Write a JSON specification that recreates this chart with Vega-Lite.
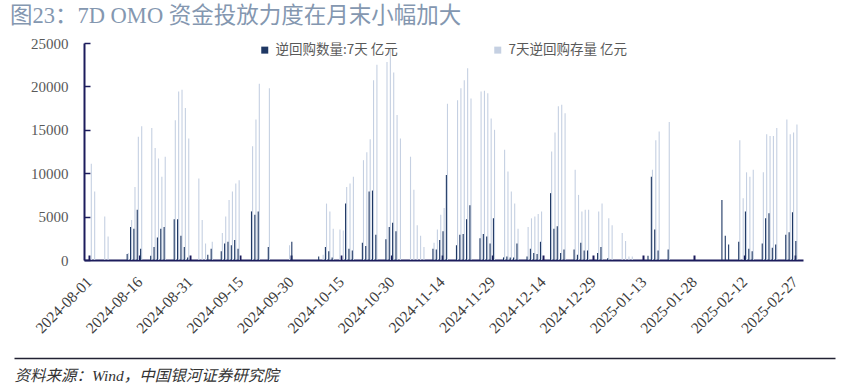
{
  "$schema": "https://vega.github.io/schema/vega-lite/v6.json",
  "width": 719,
  "height": 217,
  "autosize": {"type": "none"},
  "padding": {"left": 84, "top": 43, "right": 55, "bottom": 126},
  "background": "white",
  "config": {"view": {"stroke": null}, "font": "Liberation Serif"},
  "title": {
    "text": "图23：7D OMO 资金投放力度在月末小幅加大",
    "anchor": "start",
    "frame": "group",
    "dx": -74,
    "dy": 20,
    "offset": 11,
    "fontSize": 22.5,
    "font": "Liberation Serif, Noto Sans CJK SC",
    "fontWeight": "normal",
    "color": "#8497B0",
    "baseline": "alphabetic"
  },
  "data": {
    "values": [
      {"date": "2024-08-01", "qty": null, "stock": 11100},
      {"date": "2024-08-02", "qty": null, "stock": 7900},
      {"date": "2024-08-05", "qty": null, "stock": 5000},
      {"date": "2024-08-06", "qty": null, "stock": 2700},
      {"date": "2024-08-12", "qty": 700, "stock": 800},
      {"date": "2024-08-13", "qty": 3800, "stock": 4600},
      {"date": "2024-08-14", "qty": 3600, "stock": 8400},
      {"date": "2024-08-15", "qty": 5800, "stock": 14200},
      {"date": "2024-08-16", "qty": 1300, "stock": 15400},
      {"date": "2024-08-19", "qty": 500, "stock": 15200},
      {"date": "2024-08-20", "qty": 1500, "stock": 12900},
      {"date": "2024-08-21", "qty": 2600, "stock": 11700},
      {"date": "2024-08-22", "qty": 3600, "stock": 9600},
      {"date": "2024-08-23", "qty": 3800, "stock": 11900},
      {"date": "2024-08-26", "qty": 4700, "stock": 16100},
      {"date": "2024-08-27", "qty": 4700, "stock": 19400},
      {"date": "2024-08-28", "qty": 2800, "stock": 19600},
      {"date": "2024-08-29", "qty": 1500, "stock": 17500},
      {"date": "2024-08-30", "qty": 300, "stock": 14000},
      {"date": "2024-09-02", "qty": null, "stock": 9400},
      {"date": "2024-09-03", "qty": null, "stock": 4600},
      {"date": "2024-09-04", "qty": null, "stock": 1900},
      {"date": "2024-09-05", "qty": 600, "stock": null},
      {"date": "2024-09-06", "qty": 1300, "stock": 2100},
      {"date": "2024-09-09", "qty": 1000, "stock": 3100},
      {"date": "2024-09-10", "qty": 1900, "stock": 5000},
      {"date": "2024-09-11", "qty": 2100, "stock": 6900},
      {"date": "2024-09-12", "qty": 1700, "stock": 7900},
      {"date": "2024-09-13", "qty": 2300, "stock": 8800},
      {"date": "2024-09-14", "qty": 1300, "stock": 9200},
      {"date": "2024-09-18", "qty": 5600, "stock": 13100},
      {"date": "2024-09-19", "qty": 5200, "stock": 16200},
      {"date": "2024-09-20", "qty": 5600, "stock": 20300},
      {"date": "2024-09-23", "qty": 1500, "stock": 19800},
      {"date": "2024-09-29", "qty": null, "stock": 1700},
      {"date": "2024-09-30", "qty": 2100, "stock": null},
      {"date": "2024-10-08", "qty": 400, "stock": null},
      {"date": "2024-10-09", "qty": null, "stock": 600},
      {"date": "2024-10-10", "qty": 1500, "stock": 6500},
      {"date": "2024-10-11", "qty": 1000, "stock": 5600},
      {"date": "2024-10-12", "qty": 300, "stock": 3600},
      {"date": "2024-10-14", "qty": null, "stock": 3500},
      {"date": "2024-10-15", "qty": null, "stock": 3400},
      {"date": "2024-10-16", "qty": 6500, "stock": 8400},
      {"date": "2024-10-17", "qty": 1300, "stock": 8800},
      {"date": "2024-10-18", "qty": 1100, "stock": 9600},
      {"date": "2024-10-21", "qty": 2000, "stock": 11500},
      {"date": "2024-10-22", "qty": 1600, "stock": 12400},
      {"date": "2024-10-23", "qty": 7900, "stock": 13900},
      {"date": "2024-10-24", "qty": 8000, "stock": 20700},
      {"date": "2024-10-25", "qty": 2900, "stock": 22500},
      {"date": "2024-10-28", "qty": 2400, "stock": 22800},
      {"date": "2024-10-29", "qty": 3800, "stock": 24400},
      {"date": "2024-10-30", "qty": 4300, "stock": 21600},
      {"date": "2024-10-31", "qty": 3300, "stock": 16700},
      {"date": "2024-11-01", "qty": null, "stock": 14000},
      {"date": "2024-11-04", "qty": null, "stock": 11900},
      {"date": "2024-11-05", "qty": null, "stock": 8100},
      {"date": "2024-11-06", "qty": null, "stock": 4000},
      {"date": "2024-11-07", "qty": null, "stock": 2800},
      {"date": "2024-11-08", "qty": null, "stock": 1500},
      {"date": "2024-11-11", "qty": 1300, "stock": 2000},
      {"date": "2024-11-12", "qty": 1200, "stock": 3500},
      {"date": "2024-11-13", "qty": 2300, "stock": 5200},
      {"date": "2024-11-14", "qty": 3300, "stock": 6000},
      {"date": "2024-11-15", "qty": 9800, "stock": 18000},
      {"date": "2024-11-18", "qty": 1700, "stock": 18400},
      {"date": "2024-11-19", "qty": 2900, "stock": 19800},
      {"date": "2024-11-20", "qty": 3000, "stock": 20700},
      {"date": "2024-11-21", "qty": 4700, "stock": 22100},
      {"date": "2024-11-22", "qty": 6300, "stock": 18600},
      {"date": "2024-11-25", "qty": 2500, "stock": 19400},
      {"date": "2024-11-26", "qty": 3000, "stock": 19500},
      {"date": "2024-11-27", "qty": 2700, "stock": 19200},
      {"date": "2024-11-28", "qty": 1900, "stock": 16300},
      {"date": "2024-11-29", "qty": 4800, "stock": 15000},
      {"date": "2024-12-02", "qty": 300, "stock": 12700},
      {"date": "2024-12-03", "qty": 400, "stock": 10200},
      {"date": "2024-12-04", "qty": 300, "stock": 7900},
      {"date": "2024-12-05", "qty": 300, "stock": 6500},
      {"date": "2024-12-06", "qty": 1900, "stock": 3600},
      {"date": "2024-12-09", "qty": 400, "stock": 3800},
      {"date": "2024-12-10", "qty": 1300, "stock": 4800},
      {"date": "2024-12-11", "qty": 800, "stock": 5000},
      {"date": "2024-12-12", "qty": 700, "stock": 5300},
      {"date": "2024-12-13", "qty": 2100, "stock": 5600},
      {"date": "2024-12-16", "qty": 7700, "stock": 12500},
      {"date": "2024-12-17", "qty": 3600, "stock": 14700},
      {"date": "2024-12-18", "qty": 3900, "stock": 17700},
      {"date": "2024-12-19", "qty": 800, "stock": 17900},
      {"date": "2024-12-20", "qty": 1200, "stock": 16900},
      {"date": "2024-12-23", "qty": 1200, "stock": 10400},
      {"date": "2024-12-24", "qty": 600, "stock": 7500},
      {"date": "2024-12-25", "qty": 2000, "stock": 5600},
      {"date": "2024-12-26", "qty": 1100, "stock": 5800},
      {"date": "2024-12-27", "qty": 1100, "stock": 5800},
      {"date": "2024-12-30", "qty": 800, "stock": 5600},
      {"date": "2024-12-31", "qty": 1500, "stock": 6500},
      {"date": "2025-01-02", "qty": 200, "stock": 4800},
      {"date": "2025-01-03", "qty": null, "stock": 4000},
      {"date": "2025-01-06", "qty": null, "stock": 3100},
      {"date": "2025-01-07", "qty": null, "stock": 2200},
      {"date": "2025-01-08", "qty": null, "stock": 400},
      {"date": "2025-01-09", "qty": null, "stock": 400},
      {"date": "2025-01-14", "qty": 500, "stock": null},
      {"date": "2025-01-15", "qty": 9600, "stock": 10400},
      {"date": "2025-01-16", "qty": 3500, "stock": 13800},
      {"date": "2025-01-17", "qty": 1100, "stock": 14800},
      {"date": "2025-01-20", "qty": 1200, "stock": 15900},
      {"date": "2025-02-05", "qty": 6900, "stock": null},
      {"date": "2025-02-06", "qty": 2800, "stock": null},
      {"date": "2025-02-07", "qty": 1800, "stock": null},
      {"date": "2025-02-10", "qty": 2100, "stock": 13800},
      {"date": "2025-02-11", "qty": null, "stock": 7100},
      {"date": "2025-02-12", "qty": 5600, "stock": 10100},
      {"date": "2025-02-13", "qty": 1300, "stock": 9600},
      {"date": "2025-02-14", "qty": 1000, "stock": 10400},
      {"date": "2025-02-17", "qty": 1900, "stock": 10100},
      {"date": "2025-02-18", "qty": 4800, "stock": 14500},
      {"date": "2025-02-19", "qty": 5400, "stock": 14300},
      {"date": "2025-02-20", "qty": 1400, "stock": 14300},
      {"date": "2025-02-21", "qty": 1800, "stock": 15200},
      {"date": "2025-02-24", "qty": 2900, "stock": 16200},
      {"date": "2025-02-25", "qty": 3200, "stock": 14500},
      {"date": "2025-02-26", "qty": 5500, "stock": 14700},
      {"date": "2025-02-27", "qty": 2200, "stock": 15600}
    ]
  },
  "layer": [
    {
      "layer": [
        {
          "mark": {"type": "bar", "width": 1.1, "xOffset": 2.3},
          "encoding": {
            "x": {
              "field": "date",
              "type": "temporal",
              "scale": {
                "type": "utc",
                "domain": [
                  {"year": 2024, "month": 8, "date": 1, "utc": true},
                  {"year": 2025, "month": 2, "date": 28, "utc": true}
                ]
              },
              "axis": {
                "values": [
                  {"year": 2024, "month": 8, "date": 1, "utc": true},
                  {"year": 2024, "month": 8, "date": 16, "utc": true},
                  {"year": 2024, "month": 8, "date": 31, "utc": true},
                  {"year": 2024, "month": 9, "date": 15, "utc": true},
                  {"year": 2024, "month": 9, "date": 30, "utc": true},
                  {"year": 2024, "month": 10, "date": 15, "utc": true},
                  {"year": 2024, "month": 10, "date": 30, "utc": true},
                  {"year": 2024, "month": 11, "date": 14, "utc": true},
                  {"year": 2024, "month": 11, "date": 29, "utc": true},
                  {"year": 2024, "month": 12, "date": 14, "utc": true},
                  {"year": 2024, "month": 12, "date": 29, "utc": true},
                  {"year": 2025, "month": 1, "date": 13, "utc": true},
                  {"year": 2025, "month": 1, "date": 28, "utc": true},
                  {"year": 2025, "month": 2, "date": 12, "utc": true},
                  {"year": 2025, "month": 2, "date": 27, "utc": true}
                ],
                "labelExpr": "utcFormat(datum.value, '%Y-%m-%d')",
                "labelAngle": -45,
                "labelAlign": "right",
                "labelBaseline": "middle",
                "labelFont": "Liberation Serif",
                "labelFontSize": 15.5,
                "labelColor": "#404040",
                "labelPadding": 24,
                "labelOverlap": false,
                "labelFlush": false,
                "tickSize": -5,
                "tickWidth": 2,
                "tickColor": "#1c1c5c",
                "domainColor": "#1c1c5c",
                "domainWidth": 2,
                "grid": false,
                "title": "资料来源：Wind，中国银河证券研究院",
                "titleFont": "Liberation Serif, Noto Sans CJK SC",
                "titleFontStyle": "italic",
                "titleFontWeight": "normal",
                "titleFontSize": 15.5,
                "titleColor": "#333333",
                "titleAnchor": "start",
                "titleAlign": "left",
                "titleBaseline": "alphabetic",
                "titleX": -70,
                "titleY": 120
              }
            },
            "y": {
              "field": "stock",
              "type": "quantitative",
              "scale": {"domain": [0, 25000], "nice": false},
              "axis": {
                "values": [0, 5000, 10000, 15000, 20000, 25000],
                "format": "d",
                "grid": false,
                "title": null,
                "domainColor": "#1c1c5c",
                "domainWidth": 2,
                "tickColor": "#1c1c5c",
                "tickSize": -6,
                "tickWidth": 1.5,
                "labelFont": "Liberation Serif",
                "labelFontSize": 15,
                "labelColor": "#595959",
                "labelPadding": 22
              }
            },
            "color": {
              "datum": "7天逆回购存量 亿元",
              "type": "nominal",
              "scale": {
                "domain": ["逆回购数量:7天 亿元", "7天逆回购存量 亿元"],
                "range": ["#1F3864", "#C5D0E2"]
              },
              "legend": {
                "orient": "none",
                "legendX": 174,
                "legendY": 0,
                "direction": "horizontal",
                "title": null,
                "symbolType": "square",
                "symbolSize": 49,
                "symbolStrokeWidth": 0,
                "labelFont": "Noto Sans CJK SC",
                "labelFontSize": 13.5,
                "labelColor": "#595959",
                "labelOffset": 4,
                "columnPadding": 93
              }
            }
          }
        },
        {
          "mark": {"type": "bar", "width": 1.1, "xOffset": 1.2},
          "encoding": {
            "x": {"field": "date", "type": "temporal"},
            "y": {"field": "qty", "type": "quantitative"},
            "color": {"datum": "逆回购数量:7天 亿元", "type": "nominal"}
          }
        }
      ]
    },
    {
      "mark": {"type": "rule", "opacity": 0},
      "encoding": {
        "x": {
          "field": "date",
          "type": "temporal",
          "scale": {
            "type": "utc",
            "domain": [
              {"year": 2024, "month": 8, "date": 1, "utc": true},
              {"year": 2025, "month": 2, "date": 28, "utc": true}
            ],
            "range": [-70, 751]
          },
          "axis": {
            "orient": "bottom",
            "offset": 98,
            "domain": true,
            "domainColor": "#222233",
            "domainWidth": 1.3,
            "ticks": false,
            "labels": false,
            "grid": false,
            "title": null
          }
        }
      }
    }
  ],
  "resolve": {"scale": {"x": "independent"}, "axis": {"x": "independent"}}
}
